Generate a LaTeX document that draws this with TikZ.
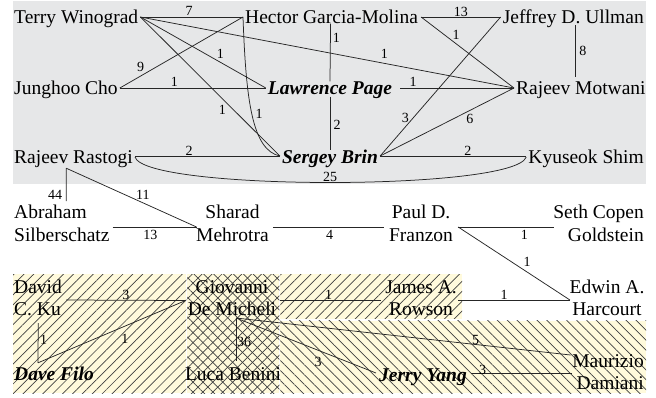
\documentclass[tikz,border=0pt]{standalone}
\usepackage{fontspec}
\setmainfont{Liberation Serif}
\usetikzlibrary{patterns.meta}
\definecolor{bggray}{HTML}{E6E7E8}
\definecolor{bgyel}{HTML}{FFFADC}
\tikzset{
  nm/.style={inner sep=0pt, font=\fontsize{19.5}{22.5}\selectfont, text height=13pt, text depth=0pt},
  nmm/.style={inner sep=0pt, font=\fontsize{19.5}{22.5}\selectfont},
  bi/.style={font=\fontsize{19.5}{22.5}\selectfont\bfseries\itshape},
  lbl/.style={inner sep=0pt, font=\fontsize{14}{14}\selectfont, text height=9.5pt, text depth=0pt, anchor=center},
  ln/.style={draw=black!85, line width=0.75pt},
  yelbox/.style={fill=bgyel},
  nehatch/.style={pattern={Lines[angle=45,distance=7pt,line width=0.7pt]}, pattern color=black!75},
  nwhatch/.style={pattern={Lines[angle=-45,distance=7pt,line width=0.7pt]}, pattern color=black!75}
}
\begin{document}
\begin{tikzpicture}[x=1pt,y=-1pt]
\useasboundingbox (0,0) rectangle (656,397);
% backgrounds
\fill[bggray] (13,1) rectangle (646,184);
\fill[yelbox] (13,274) rectangle (186.3,393);
\fill[nehatch] (13,274) rectangle (186.3,393);
\fill[yelbox] (187.3,274) rectangle (279.3,393);
\fill[nehatch] (187.3,274) rectangle (279.3,393);
\fill[nwhatch] (187.3,274) rectangle (279.3,393);
\fill[yelbox] (280.3,274) rectangle (462,318.5);
\fill[nehatch] (280.3,274) rectangle (462,318.5);
\fill[yelbox] (280.3,320.5) rectangle (646,393);
\fill[nwhatch] (280.3,320.5) rectangle (646,393);

% nodes
\node[nm, anchor=west] (tw) at (14,17) {Terry Winograd};
\node[nm, anchor=west] (hg) at (245,17) {Hector Garcia-Molina};
\node[nm, anchor=east] (ju) at (644,17) {Jeffrey D. Ullman};
\node[nm, anchor=west] (jc) at (14,88) {Junghoo Cho};
\node[nm, bi] (lp) at (330,88) {Lawrence Page};
\node[nm, anchor=west] (rm) at (516,88) {Rajeev Motwani};
\node[nm, anchor=west] (rr) at (14,157) {Rajeev Rastogi};
\node[nm, bi] (sb) at (330,157) {Sergey Brin};
\node[nm, anchor=east] (ks) at (644,157) {Kyuseok Shim};

\node[nmm, align=left, anchor=west] (as) at (14,223.5) {Abraham\\Silberschatz};
\node[nmm, align=center] (sm) at (232.5,223.5) {Sharad\\Mehrotra};
\node[nmm, align=center] (pf) at (421,223.5) {Paul D.\\Franzon};
\node[nmm, align=right, anchor=east] (sg) at (644,223.5) {Seth Copen\\Goldstein};

\node[nmm, align=left, anchor=west] (dk) at (14,298) {David\\C. Ku};
\node[nmm, align=center] (gd) at (232,298) {Giovanni\\De Micheli};
\node[nmm, align=center] (jr) at (421,298) {James A.\\Rowson};
\node[nmm, align=center] (eh) at (607,298) {Edwin A.\\Harcourt};
\node[nmm, align=right, anchor=east] (md) at (644,372) {Maurizio\\Damiani};

\node[nm, bi, anchor=west] (df) at (14,374) {Dave Filo};
\node[nm] (lb) at (233,374) {Luca Benini};
\node[nm, bi, anchor=west] (jy) at (379,375) {Jerry Yang};

% helper points
\coordinate (rrb) at ([shift={(-7.3,4.5)}]rr.south);
\coordinate (gdb) at ([shift={(4,20)}]gd.center);
\coordinate (dfc) at ([shift={(24,-4.5)}]df.north west);

% gray region edges
\draw[ln] ([shift={(2,0)}]tw.east) -- node[lbl,pos=.475,yshift=6.5pt]{7} ([shift={(-2,0)}]hg.west);
\draw[ln] ([shift={(2,0)}]tw.east) -- node[lbl,pos=.638,yshift=9pt]{1} ([shift={(-2,0)}]lp.west);
\draw[ln] ([shift={(2,0)}]tw.east) -- node[lbl,pos=.587,yshift=-11pt]{1} ([shift={(-2,-1)}]sb.west);
\draw[ln] ([shift={(2,0)}]tw.east) -- node[lbl,pos=.653,yshift=10pt]{1} ([shift={(-2,0)}]rm.west);
\draw[ln] ([shift={(2,0)}]jc.east) -- node[lbl,pos=.169,yshift=9pt]{9} ([shift={(-2,0)}]hg.west);
\draw[ln] ([shift={(2,0)}]jc.east) -- node[lbl,pos=.373,yshift=6pt]{1} ([shift={(-2,0)}]lp.west);
\draw[ln] ([shift={(-2,0)}]hg.west) .. controls (246,100) and (252,150) .. node[lbl,pos=.5,xshift=7pt,yshift=2pt]{1} ([shift={(-2,-1)}]sb.west);
\draw[ln] ([shift={(-1,0)}]hg.south) -- node[lbl,pos=.25,xshift=6pt]{1} (lp.north);
\draw[ln] ([shift={(0,2)}]lp.south) -- node[lbl,pos=.53,xshift=7pt]{2} (sb.north);
\draw[ln] ([shift={(3,0)}]hg.east) -- node[lbl,pos=.5,yshift=5pt]{13} ([shift={(-2,0)}]ju.west);
\draw[ln] ([shift={(3,0)}]hg.east) -- node[lbl,pos=.376,yshift=9pt]{1} ([shift={(-2,0)}]rm.west);
\draw[ln] ([shift={(-2,0)}]ju.west) -- node[lbl,pos=.725,xshift=-8pt]{3} ([shift={(2,-1)}]sb.east);
\draw[ln] ([shift={(2.5,1.5)}]ju.south) -- node[lbl,pos=.5,xshift=7pt]{8} ([shift={(2.5,-4.5)}]ju.south |- rm.north);
\draw[ln] ([shift={(8,0)}]lp.east) -- node[lbl,pos=.114,yshift=6pt]{1} ([shift={(-2,0)}]rm.west);
\draw[ln] ([shift={(-2,0)}]rm.west) -- node[lbl,pos=.33,yshift=-8pt]{6} ([shift={(2,-1)}]sb.east);
\draw[ln] ([shift={(2,-1)}]sb.east) -- node[lbl,pos=.6,yshift=5pt]{2} ([shift={(-2,-1)}]ks.west);
\draw[ln] ([shift={(2,-1)}]rr.east) -- node[lbl,pos=.374,yshift=5pt]{2} ([shift={(-2,-1)}]sb.west);
\draw[ln] ([shift={(2,0)}]rr.east) .. controls (145,191) and (515,191) .. node[lbl,pos=.5,yshift=6pt]{25} ([shift={(-2,0)}]ks.west);

% middle edges
\draw[ln] (rrb) -- node[lbl,pos=.82,xshift=-11pt]{44} ([shift={(4.3,-22.5)}]as.center);
\draw[ln] (rrb) -- node[lbl,pos=.588,yshift=8pt]{11} ([shift={(0.5,3.5)}]sm.west);
\draw[ln] ([shift={(3,3.5)}]as.east) -- node[lbl,pos=.45,yshift=-8pt]{13} ([shift={(0.5,3.5)}]sm.west);
\draw[ln] ([shift={(4,3.5)}]sm.east) -- node[lbl,pos=.51,yshift=-8pt]{4} ([shift={(-5,3.5)}]pf.west);
\draw[ln] ([shift={(5,3.5)}]pf.east) -- node[lbl,pos=.69,yshift=-8pt]{1} ([shift={(1,3.5)}]sg.west);
\draw[ln] ([shift={(5,3.5)}]pf.east) -- node[lbl,pos=.616,yshift=10pt]{1} ([shift={(0.5,2)}]eh.west);
\draw[ln] ([shift={(1.5,2)}]jr.east) -- node[lbl,pos=.41,yshift=5pt]{1} ([shift={(0.5,2)}]eh.west);

% lower edges
\draw[ln] ([shift={(4,2)}]dk.east) -- node[lbl,pos=.5,yshift=6pt]{3} ([shift={(-2,2.5)}]gd.west);
\draw[ln] ([shift={(4,2)}]gd.east) -- node[lbl,pos=.48,yshift=5pt]{1} ([shift={(-4,2)}]jr.west);
\draw[ln] ([shift={(0.2,25)}]dk.center) -- node[lbl,pos=.42,xshift=5.5pt]{1} (dfc);
\draw[ln] (dfc) -- node[lbl,pos=.588,yshift=-13pt]{1} ([shift={(-2,2.5)}]gd.west);
\draw[ln] (gdb) -- node[lbl,pos=.56,xshift=8pt]{36} ([shift={(3,-6.5)}]lb.north);
\draw[ln] (gdb) -- node[lbl,pos=.586,yshift=-12pt]{3} ([shift={(-3,-2)}]jy.west);
\draw[ln] (gdb) -- node[lbl,pos=.716,yshift=5pt]{5} ([shift={(-1.5,-17)}]md.west);
\draw[ln] ([shift={(4.5,-2)}]jy.east) -- node[lbl,pos=.11,yshift=3pt]{3} ([shift={(0,1)}]md.west);
\end{tikzpicture}
\end{document}
